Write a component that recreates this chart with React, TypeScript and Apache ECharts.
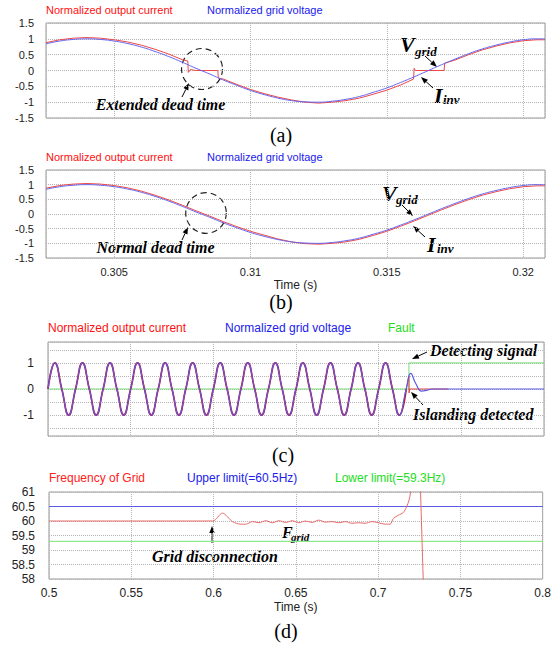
import React, { useEffect, useRef } from 'react';
import * as echarts from 'echarts';

// ---------- Panels (a) and (b): time in seconds ----------
const timeAB = [0.3025, 0.303, 0.3035, 0.304, 0.3045, 0.305, 0.3055, 0.306, 0.3065, 0.307, 0.3075, 0.308, 0.3085, 0.309, 0.3095, 0.31, 0.3105, 0.311, 0.3115, 0.312, 0.3125, 0.313, 0.3135, 0.314, 0.3145, 0.315, 0.3155, 0.316, 0.3165, 0.317, 0.3175, 0.318, 0.3185, 0.319, 0.3195, 0.32, 0.3205, 0.3208];
const gridVoltageAB = [0.84, 0.93, 0.98, 1.0, 0.98, 0.93, 0.85, 0.74, 0.6, 0.44, 0.26, 0.07, -0.11, -0.3, -0.47, -0.63, -0.76, -0.87, -0.95, -0.99, -1.0, -0.97, -0.91, -0.82, -0.69, -0.55, -0.38, -0.2, -0.01, 0.18, 0.36, 0.53, 0.68, 0.8, 0.9, 0.97, 1.0, 1.0];
const outputCurrentB = [0.88, 0.97, 1.02, 1.04, 1.02, 0.97, 0.89, 0.78, 0.64, 0.48, 0.3, 0.11, -0.07, -0.26, -0.43, -0.59, -0.72, -0.85, -0.95, -1.01, -1.03, -1.0, -0.95, -0.86, -0.73, -0.59, -0.42, -0.24, -0.05, 0.14, 0.32, 0.49, 0.64, 0.76, 0.86, 0.93, 0.96, 0.96];
const currentTimeA = [0.3025, 0.303, 0.3035, 0.304, 0.3045, 0.305, 0.3055, 0.306, 0.3065, 0.307, 0.3075, 0.3077, 0.30772, 0.3078, 0.308, 0.3088, 0.30882, 0.309, 0.3095, 0.31, 0.3105, 0.311, 0.3115, 0.312, 0.3125, 0.313, 0.3135, 0.314, 0.3145, 0.315, 0.3155, 0.31598, 0.316, 0.31605, 0.3171, 0.31712, 0.3175, 0.318, 0.3185, 0.319, 0.3195, 0.32, 0.3205, 0.3208];
const outputCurrentA = [0.88, 0.97, 1.02, 1.04, 1.02, 0.97, 0.9, 0.8, 0.67, 0.52, 0.34, 0.3, -0.06, 0.03, 0.0, 0.0, -0.24, -0.27, -0.44, -0.6, -0.73, -0.84, -0.93, -1.0, -1.03, -1.0, -0.95, -0.87, -0.75, -0.62, -0.46, -0.27, 0.07, 0.0, 0.0, 0.23, 0.33, 0.5, 0.65, 0.77, 0.87, 0.94, 0.97, 0.97];

// ---------- Panel (c) ----------
const timeC = [0.5, 0.50417, 0.50833, 0.5125, 0.51667, 0.52083, 0.525, 0.52917, 0.53333, 0.5375, 0.54167, 0.54583, 0.55, 0.55417, 0.55833, 0.5625, 0.56667, 0.57083, 0.575, 0.57917, 0.58333, 0.5875, 0.59167, 0.59583, 0.6, 0.60417, 0.60833, 0.6125, 0.61667, 0.62083, 0.625, 0.62917, 0.63333, 0.6375, 0.64167, 0.64583, 0.65, 0.65417, 0.65833, 0.6625, 0.66667, 0.67083, 0.675, 0.67917, 0.68333, 0.6875, 0.69167, 0.69583, 0.7, 0.70417, 0.70833, 0.7125, 0.71667];
const waveC = [0, 1, 0, -1, 0, 1, 0, -1, 0, 1, 0, -1, 0, 1, 0, -1, 0, 1, 0, -1, 0, 1, 0, -1, 0, 1, 0, -1, 0, 1, 0, -1, 0, 1, 0, -1, 0, 1, 0, -1, 0, 1, 0, -1, 0, 1, 0, -1, 0, 1, 0, -1, 0];
const voltageTailTime = [0.7194, 0.7225, 0.726, 0.7295, 0.733, 0.8];
const voltageTail = [0.6, 0.2, -0.08, -0.04, 0, 0];
const currentTailTime = [0.71667, 0.7183, 0.7184, 0.7188, 0.7421];
const currentTail = [0, 0.5, -0.15, 0, 0];
const faultTime = [0.5, 0.7183, 0.7183, 0.8];
const faultSignal = [0, 0, 1, 1];

// ---------- Panel (d) ----------
const freqTime = [0.5, 0.5994, 0.6054, 0.6115, 0.6166, 0.6196, 0.6236, 0.6276, 0.6317, 0.6357, 0.6397, 0.6438, 0.6478, 0.6518, 0.6559, 0.6599, 0.6639, 0.668, 0.672, 0.676, 0.6801, 0.6841, 0.6881, 0.6922, 0.6962, 0.7002, 0.7043, 0.7073, 0.7093, 0.7123, 0.7153, 0.7173, 0.7188, 0.7197, 0.721, 0.725, 0.7258, 0.7266, 0.7274, 0.7276];
const gridFrequency = [60.0, 60.0, 60.27, 59.98, 59.89, 59.89, 59.98, 59.94, 60.01, 59.94, 60.01, 59.95, 60.01, 59.94, 60.0, 59.95, 60.03, 59.96, 59.98, 59.94, 59.98, 59.92, 59.94, 59.92, 59.98, 59.94, 59.89, 59.89, 60.09, 60.2, 60.29, 60.49, 60.72, 60.98, 62.5, 62.5, 61.0, 59.5, 58.0, 57.5];
const limitTime = [0.5, 0.8];
const upperLimit = [60.5, 60.5];
const lowerLimit = [59.3, 59.3];

const zip = (t: number[], v: number[]) => t.map((x, i) => [x, v[i]]);

const SANS = 'Liberation Sans';
const SERIF = 'Liberation Serif';

function txt(x: number, y: number, text: string, o: any = {}) {
  const align = o.align || 'left';
  const va = o.va || 'middle';
  return {
    type: 'text', x, y, silent: true,
    style: {
      text, fill: o.fill || '#000', fontSize: o.size || 12,
      fontFamily: o.family || SANS, fontWeight: o.weight || 'normal', fontStyle: o.style || 'normal',
      textAlign: align, textVerticalAlign: va, align, verticalAlign: va,
    },
  };
}
function ann(x: number, y: number, text: string, size = 16, align = 'left') {
  return txt(x, y, text, { family: SERIF, weight: 'bold', style: 'italic', size, align });
}
function arrow(x1: number, y1: number, x2: number, y2: number, stroke = '#000', w = 1, head = 7) {
  const a = Math.atan2(y2 - y1, x2 - x1);
  const bx = x2 - head * Math.cos(a), by = y2 - head * Math.sin(a);
  const px = -Math.sin(a) * head * 0.38, py = Math.cos(a) * head * 0.38;
  return [
    { type: 'line', silent: true, shape: { x1, y1, x2: bx, y2: by }, style: { stroke, lineWidth: w } },
    { type: 'polygon', silent: true, shape: { points: [[x2, y2], [bx + px, by + py], [bx - px, by - py]] }, style: { fill: '#000' } },
  ];
}

const GRID_LINE = { show: true, lineStyle: { type: 'dotted', color: '#b5b5b5', width: 1 } };

function abX(gridIndex: number, labels: boolean) {
  return {
    type: 'value', gridIndex, min: 0.3025, max: 0.3208, splitNumber: 4,
    axisLine: { show: false }, axisTick: { show: false },
    axisLabel: { show: labels, fontSize: 11, color: '#222', fontFamily: SANS, margin: 8, showMinLabel: false, showMaxLabel: false },
    splitLine: GRID_LINE,
    name: labels ? 'Time (s)' : '', nameLocation: 'middle', nameGap: 21, nameMoveOverlap: false,
    nameTextStyle: { fontSize: 12, color: '#222', fontFamily: SANS },
  };
}
function cdX(gridIndex: number, labels: boolean) {
  return {
    type: 'value', gridIndex, min: 0.5, max: 0.8, interval: 0.05,
    axisLine: { show: false }, axisTick: { show: false },
    axisLabel: { show: labels, fontSize: 12, color: '#222', fontFamily: SANS, margin: 8 },
    splitLine: GRID_LINE,
    name: labels ? 'Time (s)' : '', nameLocation: 'middle', nameGap: 22, nameMoveOverlap: false,
    nameTextStyle: { fontSize: 12, color: '#222', fontFamily: SANS },
  };
}

const RED_AB = '#ee4848';
const BLUE_AB = '#6262ee';

export default function App() {
  const ref = useRef<HTMLDivElement>(null);
  useEffect(() => {
    if (!ref.current) return;
    const chart = echarts.init(ref.current, undefined, { renderer: 'svg' });
    const line = (x: number, data: any[], color: string, width: number, extra: any = {}) => ({
      type: 'line', xAxisIndex: x, yAxisIndex: x, data, showSymbol: false, symbol: 'none',
      lineStyle: { color, width }, itemStyle: { color }, silent: true, animation: false, z: 2, ...extra,
    });

    const graphics: any[] = [
      // legends
      txt(46, 10, 'Normalized output current', { fill: '#ff1010', size: 11 }),
      txt(207, 10, 'Normalized grid voltage', { fill: '#2020ee', size: 11 }),
      txt(46, 157, 'Normalized output current', { fill: '#ff1010', size: 11 }),
      txt(207, 157, 'Normalized grid voltage', { fill: '#2020ee', size: 11 }),
      txt(48, 328, 'Normalized output current', { fill: '#ff1010', size: 12 }),
      txt(225, 328, 'Normalized grid voltage', { fill: '#2020ee', size: 12 }),
      txt(388, 328, 'Fault', { fill: '#22dd22', size: 12 }),
      txt(49, 478, 'Frequency of Grid', { fill: '#ff2020', size: 12 }),
      txt(187, 478, 'Upper limit(=60.5Hz)', { fill: '#2020ee', size: 12 }),
      txt(335, 478, 'Lower limit(=59.3Hz)', { fill: '#22dd22', size: 12 }),
      // panel captions
      txt(281, 135, '(a)', { family: SERIF, size: 20, align: 'center' }),
      txt(281, 302, '(b)', { family: SERIF, size: 20, align: 'center' }),
      txt(283, 455, '(c)', { family: SERIF, size: 20, align: 'center' }),
      txt(286, 631, '(d)', { family: SERIF, size: 20, align: 'center' }),
      // (a) annotations
      { type: 'circle', silent: true, shape: { cx: 202, cy: 69, r: 20.5 }, style: { fill: 'none', stroke: '#222', lineWidth: 1.2, lineDash: [6, 4] } },
      ann(160.5, 104, 'Extended dead time', 16, 'center'),
      ...arrow(182, 97, 189, 83),
      ann(400, 44, 'V', 22),
      ann(415, 51, 'grid', 13),
      ...arrow(425, 56, 437, 67),
      ann(434, 95, 'I', 22),
      ann(443, 99, 'inv', 13),
      ...arrow(433, 88, 421, 77),
      // (b) annotations
      { type: 'circle', silent: true, shape: { cx: 206, cy: 213, r: 20.3 }, style: { fill: 'none', stroke: '#222', lineWidth: 1.2, lineDash: [6, 4] } },
      ann(155.5, 247, 'Normal dead time', 16, 'center'),
      ...arrow(182, 240, 188, 227),
      ann(382, 193, 'V', 22),
      ann(396, 199, 'grid', 13),
      ...arrow(402, 205, 413, 216),
      ann(427, 244, 'I', 22),
      ann(437, 248, 'inv', 13),
      ...arrow(425, 237, 413, 226),
      // (c) annotations
      ann(430, 350, 'Detecting signal', 16),
      ...arrow(427, 352, 412, 359),
      ann(413, 414, 'Islanding detected', 16),
      ...arrow(423, 405, 411, 392),
      // (d) annotations
      ann(152, 556, 'Grid disconnection', 16),
      ...arrow(212, 543, 212, 526, '#888', 2, 7),
      ann(282, 532, 'F', 16),
      ann(291, 537, 'grid', 11),
    ];

    chart.setOption({
      animation: false,
      backgroundColor: '#fff',
      grid: [
        { left: 46, top: 23, width: 499, height: 95, show: true, borderColor: '#999', borderWidth: 1, backgroundColor: 'transparent' },
        { left: 46, top: 170, width: 499, height: 88, show: true, borderColor: '#999', borderWidth: 1, backgroundColor: 'transparent' },
        { left: 48, top: 342, width: 496, height: 94, show: true, borderColor: '#999', borderWidth: 1, backgroundColor: 'transparent' },
        { left: 49, top: 492, width: 496, height: 87, show: true, borderColor: '#999', borderWidth: 1, backgroundColor: 'transparent' },
      ],
      xAxis: [abX(0, false), abX(1, true), cdX(2, false), cdX(3, true)],
      yAxis: [
        { type: 'value', gridIndex: 0, min: -1.5, max: 1.5, interval: 0.5, axisLine: { show: false }, axisTick: { show: false }, axisLabel: { fontSize: 11, color: '#222', fontFamily: SANS, margin: 12 }, splitLine: GRID_LINE },
        { type: 'value', gridIndex: 1, min: -1.5, max: 1.5, interval: 0.5, axisLine: { show: false }, axisTick: { show: false }, axisLabel: { fontSize: 11, color: '#222', fontFamily: SANS, margin: 12 }, splitLine: GRID_LINE },
        {
          type: 'value', gridIndex: 2, min: -1.8, max: 1.8, splitNumber: 8, axisLine: { show: false }, axisTick: { show: false },
          axisLabel: { fontSize: 12, color: '#222', fontFamily: SANS, margin: 14, showMinLabel: false, showMaxLabel: false, formatter: (v: number) => (Math.abs(v - Math.round(v)) < 1e-6 ? String(Math.round(v)) : '') },
          splitLine: GRID_LINE,
        },
        { type: 'value', gridIndex: 3, min: 58, max: 61, interval: 0.5, axisLine: { show: false }, axisTick: { show: false }, axisLabel: { fontSize: 12, color: '#222', fontFamily: SANS, margin: 14 }, splitLine: GRID_LINE },
      ],
      series: [
        // (a)
        line(0, zip(currentTimeA, outputCurrentA), RED_AB, 1, { name: 'Normalized output current' }),
        line(0, zip(timeAB, gridVoltageAB), BLUE_AB, 1, { name: 'Normalized grid voltage', smooth: true, z: 3 }),
        // (b)
        line(1, zip(timeAB, outputCurrentB), RED_AB, 1, { name: 'Normalized output current' }),
        line(1, zip(timeAB, gridVoltageAB), BLUE_AB, 1, { name: 'Normalized grid voltage', smooth: true, z: 3 }),
        // (c)
        line(2, zip(faultTime, faultSignal), '#77dd77', 1, { name: 'Fault' }),
        line(2, zip(timeC, waveC), '#dd0000', 1.7, { name: 'Normalized output current', smooth: true, z: 3 }),
        line(2, zip(currentTailTime, currentTail), '#e04040', 1, { name: 'Normalized output current', z: 3 }),
        line(2, zip(timeC, waveC).concat(zip(voltageTailTime, voltageTail)), '#5a5ae6', 1.2, { name: 'Normalized grid voltage', smooth: true, z: 4 }),
        // (d)
        line(3, zip(limitTime, upperLimit), '#5a5ae6', 1, { name: 'Upper limit(=60.5Hz)' }),
        line(3, zip(limitTime, lowerLimit), '#8ee88e', 1.2, { name: 'Lower limit(=59.3Hz)' }),
        line(3, zip(freqTime, gridFrequency), '#e86a6a', 1, { name: 'Frequency of Grid', smooth: 0.3, z: 3 }),
      ],
      graphic: graphics,
    });
    return () => chart.dispose();
  }, []);
  return <div ref={ref} style={{ position: 'absolute', left: 0, top: 0, width: 554, height: 646, background: '#fff' }} />;
}
